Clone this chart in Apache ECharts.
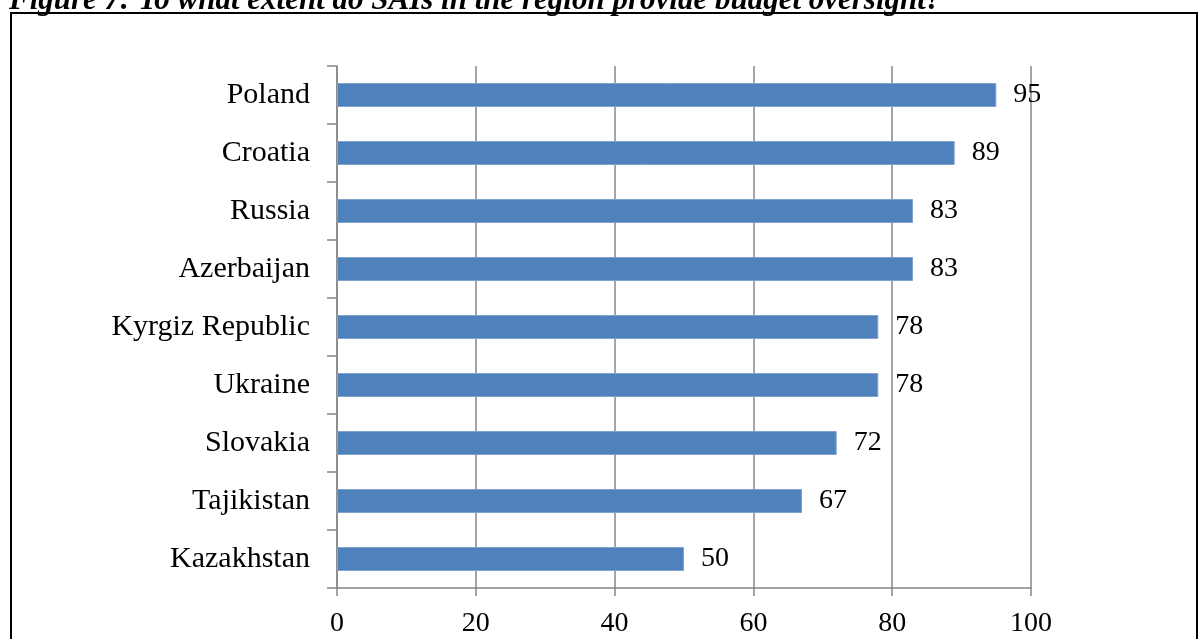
<!DOCTYPE html>
<html>
<head>
<meta charset="utf-8">
<script src="https://cdn.jsdelivr.net/npm/echarts@6/dist/echarts.min.js"></script>
<style>
  html, body { margin: 0; padding: 0; background: #fff; }
  #chart { width: 1198px; height: 639px; }
</style>
</head>
<body>
<div id="chart"></div>
<script>
// Countries, listed top to bottom
const countries = ['Poland', 'Croatia', 'Russia', 'Azerbaijan', 'Kyrgiz Republic', 'Ukraine', 'Slovakia', 'Tajikistan', 'Kazakhstan'];
// Budget oversight score per country
const scores = [95, 89, 83, 83, 78, 78, 72, 67, 50];
// Value axis ticks
const xTicks = [0, 20, 40, 60, 80, 100];

const serif = '"Liberation Serif", "DejaVu Serif", serif';
const chart = echarts.init(document.getElementById('chart'), null, { renderer: 'canvas' });

chart.setOption({
  animation: false,
  backgroundColor: '#ffffff',
  title: {
    text: 'Figure 7: To what extent do SAIs in the region provide budget oversight?',
    left: 9,
    top: -15,
    padding: 0,
    textStyle: {
      fontFamily: serif,
      fontStyle: 'italic',
      fontWeight: 'bold',
      fontSize: 31,
      color: '#000'
    }
  },
  graphic: [{
    type: 'rect',
    shape: { x: 11, y: 13, width: 1186, height: 640 },
    style: { fill: 'none', stroke: '#000', lineWidth: 2 },
    silent: true
  }],
  grid: { left: 337, right: 167, top: 66, bottom: 51, containLabel: false },
  xAxis: {
    type: 'value',
    min: xTicks[0],
    max: xTicks[xTicks.length - 1],
    interval: xTicks[1] - xTicks[0],
    axisLine: { show: true, lineStyle: { color: '#878787', width: 1.5 } },
    axisTick: { show: true, length: 8, lineStyle: { color: '#878787', width: 1.5 } },
    splitLine: { show: true, lineStyle: { color: '#878787', width: 1.5 } },
    axisLabel: { margin: 22, color: '#000', fontFamily: serif, fontSize: 28 }
  },
  yAxis: {
    type: 'category',
    data: countries,
    inverse: true,
    axisLine: { show: true, lineStyle: { color: '#878787', width: 1.5 } },
    axisTick: { show: true, length: 10, lineStyle: { color: '#878787', width: 1.5 } },
    axisLabel: { margin: 27, color: '#000', fontFamily: serif, fontSize: 30 }
  },
  series: [{
    type: 'bar',
    data: scores,
    barWidth: 24,
    itemStyle: { color: '#4F81BD', borderColor: '#7FA2CF', borderWidth: 1 },
    label: {
      show: true,
      position: 'right',
      distance: 17,
      color: '#000',
      fontFamily: serif,
      fontSize: 28
    }
  }]
});
</script>
</body>
</html>
